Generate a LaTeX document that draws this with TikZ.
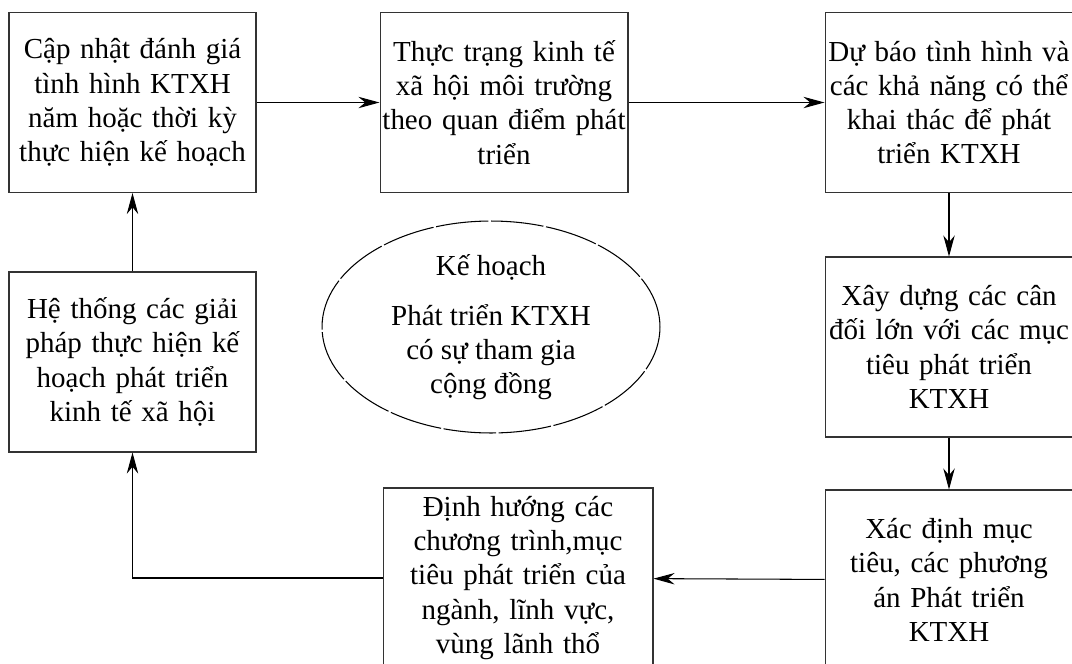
\documentclass[tikz,border=0pt]{standalone}
\usepackage{fontspec}
\setmainfont{Liberation Serif}
\usetikzlibrary{shapes.geometric, arrows.meta}

\begin{document}
\begin{tikzpicture}[
    x=0.02cm, y=-0.02cm,
    ->, >={Stealth[length=12pt, width=6.5pt]}, line width=0.6pt,
    every node/.style={font=\fontsize{16.5}{19.5}\selectfont},
    box/.style={draw=black!80, rectangle, inner sep=0pt, align=center,
        text width=4.9cm, minimum width=4.96cm, minimum height=3.6cm},
    plan/.style={draw=black, ellipse, inner sep=0pt, align=center,
        minimum width=6.76cm, minimum height=4.24cm,
        dash pattern=on 30pt off 1.5pt}
]

    \clip (0,0) rectangle (1072,663);

    % Boxes
    \node[box, minimum width=4.94cm] (b1) at (132.5,102.5)
        {Cập nhật đánh giá\\tình hình KTXH\\năm hoặc thời kỳ\\thực hiện kế hoạch};
    \node[box] (b2) at (504,102.5)
        {Thực trạng kinh tế\\xã hội môi trường\\theo quan điểm phát\\triển};
    \node[box] (b3) at (949,102.5)
        {Dự báo tình hình và\\các khả năng có thể\\khai thác để phát\\triển KTXH};
    \node[box] (b4) at (949,347)
        {Xây dựng các cân\\đối lớn với các mục\\tiêu phát triển\\KTXH};
    \node[box] (b5) at (949,580)
        {Xác định mục\\tiêu, các phương\\án Phát triển\\KTXH};
    \node[box, minimum width=5.4cm, text width=5.3cm] (b6) at (518,578)
        {Định hướng các\\chương trình,mục\\tiêu phát triển của\\ngành, lĩnh vực,\\vùng lãnh thổ};
    \node[box, minimum width=4.94cm] (b7) at (132.5,362)
        {Hệ thống các giải\\pháp thực hiện kế\\hoạch phát triển\\kinh tế xã hội};

    % Centre
    \node[plan] (plan) at (491,327)
        {Kế hoạch\\[9pt]Phát triển KTXH\\có sự tham gia\\cộng đồng};

    % Arrows
    \draw (b1) -- (b2);
    \draw (b2) -- (b3);
    \draw (b3) -- (b4);
    \draw (b4) -- (b5);
    \draw (b5) -- (b6);
    \draw (b6.west) -| (b7.south);
    \draw (b7) -- (b1);

\end{tikzpicture}
\end{document}
